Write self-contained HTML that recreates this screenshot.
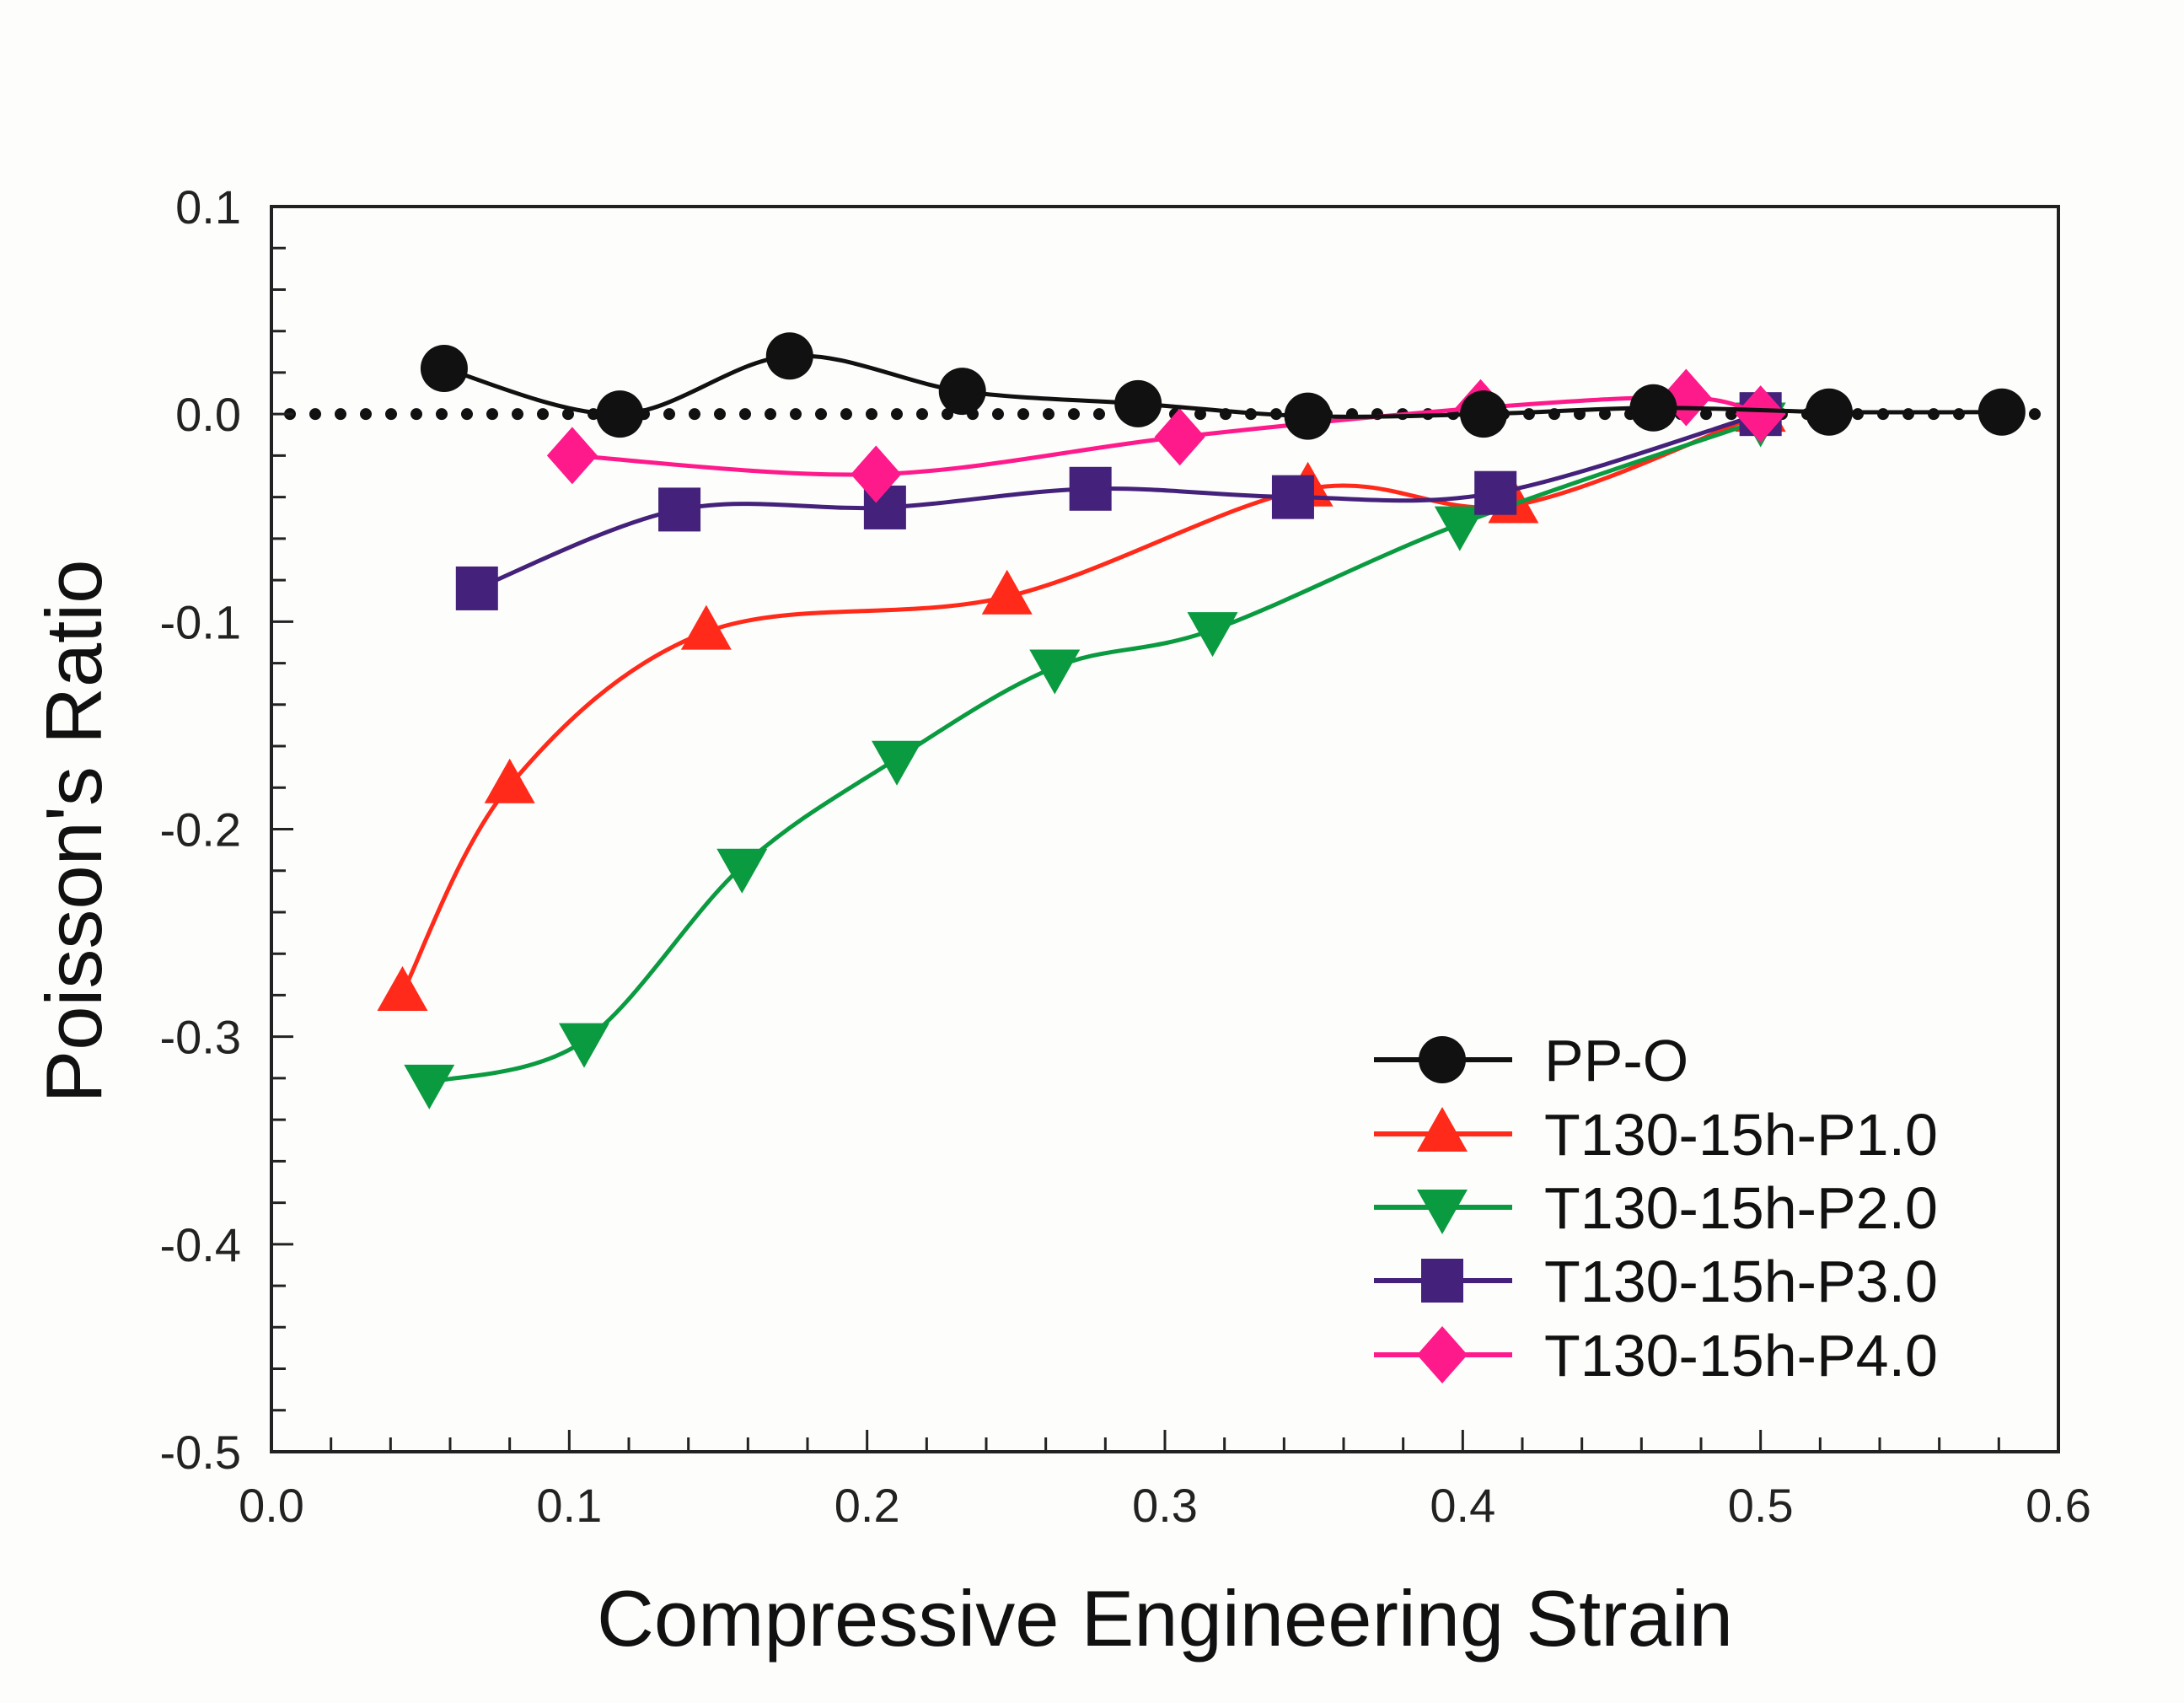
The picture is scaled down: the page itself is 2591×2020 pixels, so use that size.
<!DOCTYPE html>
<html><head><meta charset="utf-8"><style>
html,body{margin:0;padding:0;background:#fdfdfb;}
svg{display:block;font-family:"Liberation Sans",Arial,sans-serif;}
</style></head><body>
<svg id="chart" width="2591" height="2020" viewBox="0 0 2591 2020" xmlns="http://www.w3.org/2000/svg">
<rect x="0" y="0" width="2591" height="2020" fill="#fdfdfb"/>
<g id="grid"></g>
<g id="series"></g>
<g id="legend"></g>
<text x="1382" y="1952" font-size="94" text-anchor="middle" fill="#111">Compressive Engineering Strain</text>
<text x="0" y="0" font-size="94" text-anchor="middle" fill="#111" transform="translate(120,986) rotate(-90)">Poisson's Ratio</text>
</svg>
<script>
const xTicks = [0.0, 0.1, 0.2, 0.3, 0.4, 0.5, 0.6];
const xTickLabels = ["0.0","0.1","0.2","0.3","0.4","0.5","0.6"];
const yTicks = [0.1, 0.0, -0.1, -0.2, -0.3, -0.4, -0.5];
const yTickLabels = ["0.1","0.0","-0.1","-0.2","-0.3","-0.4","-0.5"];
const seriesNames = ["PP-O","T130-15h-P1.0","T130-15h-P2.0","T130-15h-P3.0","T130-15h-P4.0"];
const ppoX = [0.058,0.117,0.174,0.232,0.291,0.348,0.407,0.464,0.523,0.581];
const ppoY = [0.022,0.0,0.028,0.011,0.005,-0.001,0.0,0.003,0.001,0.001];
const p1X = [0.044,0.080,0.146,0.247,0.348,0.417,0.500];
const p1Y = [-0.279,-0.179,-0.105,-0.088,-0.036,-0.044,0.0];
const p2X = [0.053,0.105,0.158,0.210,0.263,0.316,0.399,0.500];
const p2Y = [-0.322,-0.302,-0.218,-0.166,-0.122,-0.104,-0.053,-0.003];
const p3X = [0.069,0.137,0.206,0.275,0.343,0.411,0.500];
const p3Y = [-0.084,-0.046,-0.045,-0.036,-0.040,-0.038,0.0];
const p4X = [0.101,0.203,0.305,0.406,0.475,0.500];
const p4Y = [-0.020,-0.029,-0.011,0.003,0.008,0.0];

const L=322,R=2442,T=245,B=1722;
const xMin=0,xMax=0.6,yMin=-0.5,yMax=0.1;
function sx(v){return L+(v-xMin)/(xMax-xMin)*(R-L);}
function sy(v){return B-(v-yMin)/(yMax-yMin)*(B-T);}
const NS="http://www.w3.org/2000/svg";
function mk(tag,attrs,parent){const e=document.createElementNS(NS,tag);for(const k in attrs)e.setAttribute(k,attrs[k]);parent.appendChild(e);return e;}
const grid=document.getElementById('grid');
const ser=document.getElementById('series');
const leg=document.getElementById('legend');

let zl=mk('line',{x1:sx(0)+22,y1:sy(0),x2:R-8,y2:sy(0),stroke:'#111','stroke-width':14,'stroke-linecap':'round','stroke-dasharray':'0 30'},grid);



for(let i=0;i<=30;i++){const v=i*0.02;const x=sx(v);
 const t=mk('line',{x1:x,y1:B,x2:x,y2:B-(i%5===0?26:17),stroke:'#222','stroke-width':3},grid);
 
 }
for(let i=0;i<=30;i++){const v=-0.5+i*0.02;const y=sy(v);
 const t=mk('line',{x1:L,y1:y,x2:L+(i%5===0?26:17),y2:y,stroke:'#222','stroke-width':3},grid);
 
 }
xTicks.forEach((v,i)=>{const t=mk('text',{x:sx(v),y:1805,'font-size':56,'text-anchor':'middle',fill:'#222'},grid);t.textContent=xTickLabels[i];
 
 });
yTicks.forEach((v,i)=>{const t=mk('text',{x:286,y:sy(v)+20,'font-size':56,'text-anchor':'end',fill:'#222'},grid);t.textContent=yTickLabels[i];
 
 });
const fr=mk('rect',{x:L,y:T,width:R-L,height:B-T,fill:'none',stroke:'#222','stroke-width':4},grid);



function spline(xs,ys){const p=xs.map((x,i)=>[sx(x),sy(ys[i])]);let d='M'+p[0][0]+','+p[0][1];
 for(let i=0;i<p.length-1;i++){const p0=p[Math.max(0,i-1)],p1=p[i],p2=p[i+1],p3=p[Math.min(p.length-1,i+2)];
  const c1=[p1[0]+(p2[0]-p0[0])/6,p1[1]+(p2[1]-p0[1])/6],c2=[p2[0]-(p3[0]-p1[0])/6,p2[1]-(p3[1]-p1[1])/6];
  d+=` C${c1[0]},${c1[1]} ${c2[0]},${c2[1]} ${p2[0]},${p2[1]}`;}return d;}
function marker(type,x,y,color,parent){
 if(type==='circle')return mk('circle',{cx:x,cy:y,r:28,fill:color},parent);
 if(type==='up')return mk('polygon',{points:`${x},${y-32} ${x+30},${y+21} ${x-30},${y+21}`,fill:color},parent);
 if(type==='down')return mk('polygon',{points:`${x},${y+32} ${x+30},${y-21} ${x-30},${y-21}`,fill:color},parent);
 if(type==='square')return mk('rect',{x:x-25,y:y-26,width:50,height:52,fill:color},parent);
 return mk('polygon',{points:`${x},${y-34} ${x+30},${y} ${x},${y+34} ${x-30},${y}`,fill:color},parent);}

const defs=[[ppoX,ppoY,'#111111','circle'],[p1X,p1Y,'#ff2a1a','up'],[p2X,p2Y,'#0a9a40','down'],[p3X,p3Y,'#44217a','square'],[p4X,p4Y,'#ff1a8c','diamond']];
const order=[1,2,3,4,0];
order.forEach(k=>{const [xs,ys,c,m]=defs[k];
 const g=mk('g',{},ser);
 
 
 const pth=mk('path',{d:spline(xs,ys),fill:'none',stroke:c,'stroke-width':5},g);
 
 
 xs.forEach((x,i)=>{const e=marker(m,sx(x),sy(ys[i]),c,g);
  
  });
});

const rowsY=[1257,1345,1432,1519,1607];
defs.forEach((d,i)=>{const g=mk('g',{},leg);
 
 
 mk('line',{x1:1630,y1:rowsY[i],x2:1794,y2:rowsY[i],stroke:d[2],'stroke-width':6},g);
 marker(d[3],1711,rowsY[i],d[2],g);
 const t=mk('text',{x:1832,y:rowsY[i]+25,'font-size':70,fill:'#111'},g);t.textContent=seriesNames[i];});
</script>
</body></html>
